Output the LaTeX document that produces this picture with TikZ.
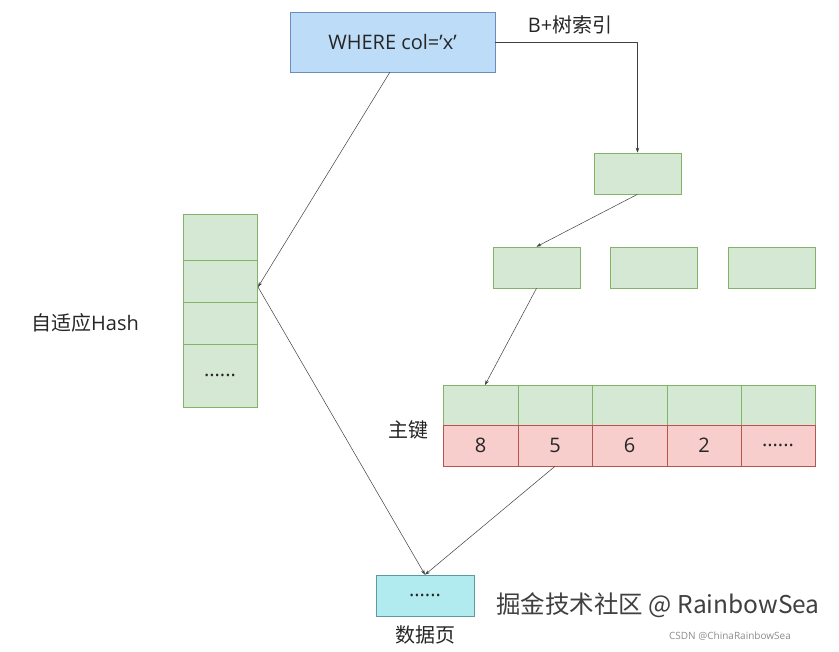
\documentclass[tikz,border=0pt]{standalone}
\usepackage{fontspec}
\setmainfont{Open Sans}[Ligatures=ResetAll]
\newfontfamily\cjk{Noto Sans CJK SC}
\usetikzlibrary{arrows.meta}
\definecolor{gf}{HTML}{D5E8D4}\definecolor{gd}{HTML}{82B366}
\definecolor{pf}{HTML}{F8CECC}\definecolor{pd}{HTML}{B85450}
\definecolor{bf}{HTML}{BDDCF8}\definecolor{bd}{HTML}{6C8EBF}
\definecolor{cf}{HTML}{B1EBEF}\definecolor{cd}{HTML}{5A9AA0}
\newcommand{\mydots}{......}
\begin{document}
\begin{tikzpicture}[x=1pt,y=-1pt,
 g/.style={draw=gd,fill=gf,line width=0.6pt},
 p/.style={draw=pd,fill=pf,line width=0.6pt},
 ar/.style={draw=black!75,line width=0.5pt,-{Stealth[length=5pt,width=3.5pt]}},
 lb/.style={font=\fontsize{20}{22}\selectfont,text=black!85}]
\useasboundingbox[fill=white](0,0) rectangle (839,652);
\node[draw=bd,fill=bf,line width=0.6pt,minimum width=205pt,minimum height=60pt,lb] (w) at (392.5,42) {WHERE col='x'};
\node[lb] (bt) at (570,25) {B+{\cjk 树索引}};
\node[g,minimum width=87pt,minimum height=41pt] (r) at (637.5,173.5) {};
\node[g,minimum width=87pt,minimum height=41pt] (l1) at (536.5,267.5) {};
\node[g,minimum width=87pt,minimum height=41pt] (l2) at (654,267.5) {};
\node[g,minimum width=87pt,minimum height=41pt] (l3) at (771.5,267.5) {};
\foreach \a/\b/\v [count=\i] in {443/518/8,518/592/5,592/667/6,667/741/2,741/815/\mydots}{
  \node[g,minimum width={\b-\a},minimum height=40pt] (t\i) at ({(\a+\b)/2},405) {};
  \node[p,minimum width={\b-\a},minimum height=41pt,lb] (k\i) at ({(\a+\b)/2},445.5) {\v};
}
\node[lb] (zj) at (408,430) {\cjk 主键};
\node[g,minimum width=74pt,minimum height=46pt] (h1) at (220,237) {};
\node[g,minimum width=74pt,minimum height=42pt] (h2) at (220,281) {};
\node[g,minimum width=74pt,minimum height=42pt] (h3) at (220,323) {};
\node[g,minimum width=74pt,minimum height=63pt,lb] (h4) at (220,375.5) {......};
\node[lb] (hl) at (85,323) {{\cjk 自适应}Hash};
\node[draw=cd,fill=cf,line width=0.6pt,minimum width=98pt,minimum height=41pt,lb] (d) at (425,595.5) {......};
\node[lb] (dl) at (425,635) {\cjk 数据页};
\coordinate (hp) at (258,287);
\coordinate (tp) at (485,385);
\draw[ar] (w.east) -| (r.north);
\draw[ar] (r.south) -- (l1.north);
\draw[ar] (l1.south) -- (tp);
\draw[ar] (390,72) -- (hp);
\draw[ar] (hp) -- (d.north);
\draw[ar] (k2.south) -- (d.north);
\node[font=\cjk\fontsize{24.5}{26}\selectfont,text=black!75] (wm) at (658,605) {掘金技术社区 @ RainbowSea};
\node[font=\fontsize{10}{11}\selectfont,text=black!45] (wm2) at (730,636) {CSDN @ChinaRainbowSea};
\end{tikzpicture}
\end{document}
